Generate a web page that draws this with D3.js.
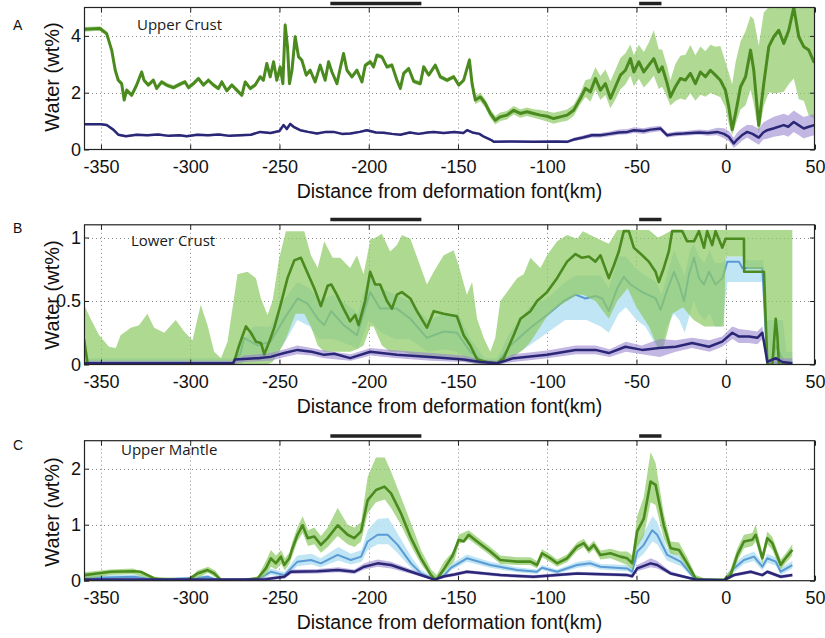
<!DOCTYPE html>
<html><head><meta charset="utf-8">
<script src="https://cdn.jsdelivr.net/npm/d3@7/dist/d3.min.js"></script>
<style>body{margin:0;background:#fff}</style>
</head><body>
<svg id="c" width="825" height="638"></svg>
<script>
// ---------- data ----------
const xTicks = [-350,-300,-250,-200,-150,-100,-50,0,50];
const xDomain = [-359.5, 50];
const barsKm = [[-221.5,-170.5],[-48.5,-36]];
const yTicksA = [0,2,4], yTicksB = [0,0.5,1], yTicksC = [0,1,2];
const yMaxA = 5, yMaxB = 1.1, yMaxC = 2.5;
const titles = ["Upper Crust","Lower Crust","Upper Mantle"];
const letters = ["A","B","C"];
const xLabel = "Distance from deformation font(km)";
const yLabel = "Water (wt%)";

// Panel A: [km, mean, spreadDown, spreadUp]
const greenA = [[-359.5,4.23,.08,.08],[-350.6,4.26,.08,.08],[-346.8,4.08,.08,.08],[-344,3.5,.08,.08],[-342,2.79,.08,.08],[-340.3,2.44,.08,.08],[-338.4,2.32,.08,.08],[-337,1.74,.08,.08],[-335.6,2.09,.08,.08],[-332.8,1.91,.08,.08],[-330,2.27,.08,.08],[-327.2,2.73,.08,.08],[-325.9,2.44,.08,.08],[-323.5,2.27,.08,.08],[-320.6,2.44,.08,.08],[-318.8,2.15,.08,.08],[-316,2.38,.08,.08],[-313.2,2.27,.08,.08],[-309.4,2.18,.08,.08],[-305.7,2.3,.08,.08],[-302.9,2.38,.08,.08],[-301,2.18,.08,.08],[-298.2,2.32,.08,.08],[-295.4,2.5,.08,.08],[-292.6,2.27,.08,.08],[-289.8,2.44,.08,.08],[-287,2.27,.08,.08],[-284.2,2.15,.08,.08],[-282.3,2.38,.08,.08],[-279.5,2.07,.08,.08],[-276.7,2.27,.08,.08],[-273.9,2.09,.08,.08],[-271.1,1.91,.08,.08],[-269.2,2.38,.08,.08],[-266.4,2.15,.08,.08],[-263.6,2.27,.08,.08],[-260.8,2.56,.08,.08],[-259,2.44,.08,.08],[-257.1,3.03,.08,.08],[-255.2,2.56,.08,.08],[-253.3,3.09,.08,.08],[-251.5,2.44,.08,.08],[-249.6,2.91,.08,.08],[-248.1,2.32,.08,.08],[-246.8,4.38,.1,.15],[-245.5,3.62,.1,.1],[-244.4,2.32,.08,.08],[-243,2.79,.08,.08],[-241.2,3.97,.1,.1],[-239.3,3.26,.08,.08],[-237.5,3.15,.08,.08],[-235,2.62,.08,.08],[-232.8,2.79,.08,.08],[-230,2.38,.08,.08],[-227.2,2.97,.08,.08],[-224.4,2.44,.08,.08],[-222.5,3.09,.08,.08],[-220.6,2.73,.08,.08],[-217.8,2.32,.08,.08],[-216,2.85,.08,.08],[-214.1,3.38,.08,.08],[-212.2,2.79,.08,.08],[-209.4,2.56,.08,.08],[-206.6,2.79,.08,.08],[-203.8,2.38,.08,.08],[-201.9,2.97,.08,.08],[-199.1,3.09,.08,.08],[-197.3,2.91,.08,.08],[-195.4,3.32,.08,.08],[-192.6,3.26,.08,.08],[-189.8,2.91,.08,.08],[-187,2.97,.08,.08],[-184.2,2.44,.08,.08],[-182.3,2.15,.08,.08],[-180.4,2.68,.08,.08],[-177.6,2.85,.08,.08],[-174.8,2.4,.08,.08],[-171.1,2.32,.08,.08],[-169.2,2.91,.08,.08],[-166.4,2.62,.08,.08],[-162.7,2.97,.08,.08],[-159.9,2.56,.08,.08],[-156.1,2.44,.08,.08],[-152.4,2.56,.08,.08],[-149.6,2.27,.08,.08],[-146.8,2.44,.08,.08],[-143.6,3.15,.12,.12],[-142.1,2.32,.12,.12],[-140.3,1.74,.15,.15],[-137.5,1.85,.15,.15],[-134.7,1.62,.15,.15],[-131.9,1.27,.15,.15],[-129.1,1.03,.15,.15],[-126.3,1.15,.15,.15],[-122.6,1.21,.15,.15],[-118.8,1.38,.15,.15],[-115.1,1.27,.15,.15],[-111.4,1.33,.15,.15],[-107.6,1.27,.15,.15],[-103.9,1.21,.15,.18],[-100.1,1.17,.18,.18],[-96.4,1.09,.18,.2],[-92.7,1.15,.18,.2],[-88.9,1.21,.2,.2],[-85.2,1.38,.2,.2],[-81.4,1.8,.2,.2],[-78.6,2.15,.3,.3],[-75.8,2.03,.35,.45],[-73,2.5,.4,.4],[-70.2,2.09,.35,.5],[-67.4,2.32,.4,.5],[-64.6,1.8,.35,.6],[-61.8,2.21,.45,.6],[-59,2.62,.5,.6],[-56.2,2.79,.5,.6],[-53.4,3.2,.6,.5],[-51.5,2.73,.5,.6],[-48.7,3.09,.6,.6],[-45.9,2.73,.55,.7],[-43.1,2.97,.6,.8],[-40.3,3.2,.6,1.0],[-37.5,2.73,.6,.8],[-35.6,2.91,.7,.6],[-32.8,2.32,.5,.6],[-31,1.85,.3,.6],[-28.2,2.21,.5,.8],[-25.4,2.5,.7,.8],[-22.6,2.44,.7,.9],[-19.8,2.68,.7,1.0],[-17,2.32,.6,1.0],[-14.2,2.73,.8,.9],[-11.4,2.56,.7,.9],[-8.6,2.79,.8,.9],[-5.8,2.62,.7,1.0],[-3,2.44,.6,1.2],[-0.2,2.09,.6,1.0],[1.7,1.5,.6,1.2],[3.6,0.7,.2,1.6],[5.5,1.27,.4,1.8],[8.3,2.21,.8,1.6],[11.1,2.56,1.0,1.6],[13.9,3.5,1.4,1.2],[15.7,2.79,1.2,1.8],[18.5,0.85,.3,2.8],[21.3,2.32,.8,2.5],[24.1,3.62,1.6,1.4],[26.9,3.97,2.0,1.0],[29.7,4.2,2.2,.8],[32.5,3.73,1.7,1.3],[35.3,4.2,1.9,.8],[38.1,5.0,2.5,0],[40.9,3.97,2.2,1.0],[43.7,3.62,1.9,1.4],[46.5,3.5,2.3,1.5],[49.3,3.09,2.0,1.9],[50,3.2,2.0,1.9]];
const purpleA = [[-359.5,.89,.04,.04],[-350,.89,.04,.04],[-346.8,.86,.04,.04],[-343.1,.7,.04,.04],[-340.3,.52,.04,.04],[-336,.47,.04,.04],[-330,.52,.04,.04],[-324,.5,.04,.04],[-318,.53,.04,.04],[-312,.48,.04,.04],[-306,.5,.04,.04],[-302,.47,.04,.04],[-296,.52,.04,.04],[-290,.5,.04,.04],[-284,.53,.04,.04],[-278,.48,.04,.04],[-272,.5,.04,.04],[-266,.52,.04,.04],[-260.8,.62,.04,.04],[-255,.58,.04,.04],[-250,.65,.04,.04],[-247.7,.86,.05,.05],[-245.9,.72,.05,.05],[-244,.9,.05,.05],[-242.1,.8,.05,.05],[-238.4,.68,.04,.04],[-234,.62,.04,.04],[-229,.56,.04,.04],[-224,.62,.04,.04],[-219.7,.62,.04,.04],[-215,.55,.04,.04],[-210.3,.56,.04,.04],[-205,.62,.04,.04],[-201,.68,.04,.04],[-196,.6,.04,.04],[-191.7,.59,.04,.04],[-187,.55,.04,.04],[-182.3,.52,.04,.04],[-177,.6,.04,.04],[-172,.55,.04,.04],[-167,.6,.04,.04],[-163.6,.62,.04,.04],[-158,.58,.04,.04],[-152,.62,.04,.04],[-147,.58,.04,.04],[-144.9,.68,.04,.04],[-142,.6,.04,.04],[-138,.55,.04,.04],[-135.5,.45,.04,.04],[-131,.32,.04,.04],[-129.9,.27,.04,.04],[-120,.28,.04,.04],[-107.6,.27,.04,.04],[-95,.28,.04,.04],[-88.9,.27,.05,.05],[-85.2,.35,.06,.06],[-80,.42,.07,.07],[-75,.5,.08,.08],[-70.2,.5,.08,.08],[-65,.55,.08,.08],[-60,.6,.08,.1],[-55,.62,.08,.1],[-51.5,.68,.1,.1],[-46,.65,.1,.1],[-42,.7,.1,.1],[-36.6,.74,.1,.1],[-32.8,.5,.08,.08],[-28,.55,.08,.08],[-23.5,.56,.08,.08],[-15,.6,.08,.1],[-10,.58,.1,.1],[-4.8,.62,.12,.15],[-1,.55,.15,.2],[1.7,.45,.15,.2],[4.5,.21,.15,.2],[6.4,.35,.2,.25],[9,.5,.2,.25],[12,.62,.2,.25],[15,.55,.25,.3],[18.5,.42,.25,.3],[21,.6,.25,.35],[23.2,.68,.3,.35],[27,.75,.3,.4],[32.5,.86,.35,.4],[35,.8,.35,.4],[38.1,.97,.35,.4],[41,.85,.35,.4],[43.7,.74,.35,.4],[46.5,.8,.35,.4],[50,.86,.35,.4]];

// Panel B lines [km, value], bands [km, low, high]
const greenB = [[-359.5,0.2],[-357.5,0.01],[-340,0.005],[-300,0.005],[-276,0.01],[-275.4,0.02],[-272.6,0.15],[-268.8,0.3],[-266,0.25],[-263.2,0.18],[-260.4,0.17],[-258.5,0.08],[-255.7,0.18],[-252.9,0.29],[-249.2,0.48],[-245.5,0.68],[-241.7,0.82],[-238,0.84],[-235.2,0.75],[-230.5,0.6],[-226.8,0.46],[-223,0.62],[-221,0.63],[-217.9,0.55],[-214.1,0.44],[-210.4,0.34],[-207.6,0.39],[-205.7,0.31],[-202,0.5],[-199.2,0.73],[-196.4,0.63],[-193.6,0.63],[-189.8,0.5],[-187,0.44],[-184.2,0.55],[-181.4,0.57],[-176.7,0.52],[-173,0.42],[-167.4,0.29],[-163.6,0.42],[-158,0.4],[-150.6,0.38],[-146.8,0.23],[-143.1,0.15],[-139.3,0.04],[-133.7,0.02],[-128.1,0.01],[-124.4,0.05],[-118.8,0.23],[-115,0.36],[-109.4,0.42],[-105.7,0.5],[-100.1,0.57],[-94.5,0.68],[-88.9,0.81],[-84.2,0.87],[-80.5,0.84],[-76.7,0.85],[-73,0.81],[-70.2,0.86],[-65.5,0.68],[-62.7,0.78],[-59.9,0.89],[-57.1,1.05],[-54.3,1.05],[-51.5,0.92],[-46.8,0.86],[-43.1,0.81],[-39.3,0.73],[-37.5,0.65],[-34.7,0.76],[-31.9,0.89],[-30,1.05],[-24.4,1.05],[-21.6,0.97],[-17.8,0.97],[-15,1.05],[-12.2,0.92],[-10.4,1.05],[-7.6,0.94],[-5.7,1.05],[-1.9,0.92],[-0.1,0.99],[10.2,0.99],[10.3,0.73],[21.4,0.73],[23.3,0.0],[26.1,0.0],[28,0.36],[28.9,0.23],[29.8,0.0],[37.3,0.0]];
const blueB = [[-359.5,0.01],[-276,0.01],[-272,0.08],[-269.8,0.21],[-262.3,0.15],[-255,0.18],[-247.3,0.36],[-239.9,0.52],[-234.3,0.48],[-228.6,0.36],[-225,0.31],[-221,0.42],[-214,0.31],[-206.6,0.23],[-199.2,0.57],[-193.6,0.44],[-184.2,0.44],[-176.7,0.36],[-167.4,0.21],[-158,0.26],[-150.6,0.25],[-143.1,0.1],[-135.6,0.02],[-128.1,0.01],[-120.6,0.15],[-109.4,0.29],[-100.1,0.39],[-90.7,0.5],[-84.2,0.55],[-78.6,0.52],[-73,0.54],[-69.2,0.52],[-65.5,0.42],[-60.8,0.6],[-57.1,0.69],[-53.4,0.63],[-46.8,0.57],[-39.3,0.52],[-36.5,0.43],[-33.7,0.55],[-29,0.73],[-26.2,0.63],[-23.4,0.5],[-20.6,0.71],[-17.8,0.84],[-15,0.68],[-12.2,0.63],[-9.4,0.73],[-5.7,0.63],[-1.9,0.68],[0.9,0.81],[7.4,0.81],[9.3,0.76],[20.5,0.76],[23.3,0.0],[26.1,0.02],[28,0.15],[29.8,0.1],[32.6,0.02],[37.3,0.02]];
const purpleB = [[-359.5,0.01],[-276,0.01],[-275,0.04],[-262,0.05],[-255,0.06],[-247.3,0.09],[-239.9,0.115],[-232,0.1],[-225,0.076],[-219.3,0.085],[-210.4,0.05],[-199.2,0.1],[-184.2,0.076],[-165.5,0.06],[-146.8,0.04],[-137.5,0.02],[-128.1,0.01],[-118.8,0.05],[-100.1,0.076],[-84.2,0.115],[-73,0.115],[-65.5,0.09],[-56.2,0.14],[-46.8,0.115],[-37.5,0.13],[-28,0.14],[-18.8,0.17],[-9.4,0.14],[-2,0.18],[3.7,0.25],[7.4,0.22],[13,0.22],[17.7,0.21],[20.5,0.25],[23.3,0.02],[28,0.05],[31.7,0.02],[37.3,0.01]];
const greenBandB = [[-359.5,0,0.47],[-355.8,0,0.36],[-351,0,0.23],[-345.5,0,0.14],[-341.7,0,0.13],[-339,0,0.23],[-333.3,0,0.29],[-328.7,0,0.31],[-324,0,0.4],[-320.2,0,0.29],[-314.6,0,0.25],[-308.1,0,0.35],[-303.4,0,0.26],[-298.7,0,0.19],[-294.1,0,0.47],[-290.3,0,0.31],[-286.6,0,0.1],[-282.8,0,0.05],[-279.1,0,0.18],[-273.5,0,0.71],[-267.9,0,0.73],[-263.2,0,0.68],[-260.4,0,0.52],[-256.7,0,0.39],[-253.9,0.02,0.5],[-250.1,0.1,0.84],[-246.4,0.2,1.05],[-241,0.4,1.05],[-236.1,0.4,1.05],[-232.4,0.3,0.86],[-228.6,0.15,0.76],[-224.9,0.1,0.97],[-220.2,0.1,0.84],[-216,0.1,0.84],[-210.4,0.1,0.76],[-206.6,0.12,0.86],[-202.9,0.15,0.71],[-199,0.3,0.99],[-197.3,0.3,0.99],[-192.6,0.15,1.03],[-188,0.1,0.89],[-184.2,0.1,0.94],[-181.4,0.1,1.02],[-176.7,0.08,0.99],[-172,0.06,0.81],[-167.4,0.05,0.63],[-163.6,0.05,0.73],[-158,0.05,0.86],[-152.4,0.05,0.9],[-149.6,0.04,0.78],[-145,0.02,0.55],[-142.1,0.01,0.65],[-139.3,0,0.36],[-135.6,0,0.21],[-131.9,0,0.1],[-129.1,0,0.21],[-126.3,0,0.5],[-122.5,0.02,0.57],[-116.9,0.08,0.68],[-113.2,0.12,0.71],[-109.4,0.18,0.84],[-103.8,0.3,0.76],[-100.1,0.38,0.86],[-94.5,0.45,0.97],[-88.9,0.5,1.02],[-83.3,0.55,0.99],[-80,0.55,1.05],[-73,0.5,1.0],[-65.5,0.36,0.95],[-60.8,0.5,1.06],[-55,0.6,1.06],[-50,0.45,1.06],[-43,0.3,1.06],[-38,0.13,1.0],[-35,0.13,1.02],[-30,0.4,1.06],[-24,0.45,1.06],[-18,0.35,1.06],[-12,0.3,1.06],[-6,0.3,1.06],[-1,0.3,1.06],[0,0.85,1.06],[10,0.85,1.06],[12,0.75,1.06],[21,0.75,1.06],[23,0,1.06],[37.3,0,1.06]];
const blueBandB = [[-359.5,0,0.05],[-276,0,0.05],[-272,0,0.15],[-265,0.05,0.3],[-255,0.05,0.3],[-248,0.15,0.5],[-240,0.35,0.65],[-233,0.3,0.6],[-228,0.2,0.5],[-220,0.2,0.55],[-210,0.15,0.45],[-206,0.12,0.4],[-200,0.35,0.7],[-193,0.25,0.6],[-185,0.2,0.55],[-177,0.2,0.5],[-167,0.1,0.35],[-158,0.12,0.4],[-150,0.1,0.4],[-143,0.03,0.2],[-135,0,0.05],[-128,0,0.05],[-121,0.05,0.25],[-110,0.15,0.45],[-100,0.25,0.52],[-90,0.35,0.65],[-84,0.35,0.7],[-78,0.35,0.7],[-70,0.3,0.7],[-65.5,0.25,0.6],[-60,0.4,0.85],[-56,0.45,0.85],[-50,0.35,0.75],[-45,0.3,0.7],[-39,0.15,0.65],[-36,0.12,0.55],[-33,0.3,0.7],[-29,0.4,0.9],[-26,0.35,0.8],[-23,0.25,0.7],[-20,0.4,0.9],[-18,0.5,0.95],[-15,0.4,0.85],[-12,0.35,0.8],[-9,0.4,0.9],[-6,0.3,0.8],[-2,0.3,0.8],[1,0.65,0.85],[10,0.65,0.85],[11,0.65,0.82],[21,0.65,0.82],[23,0,0.35],[32,0,0.35],[34,0,0.1],[37.3,0,0.1]];
const purpleBandB = [[-359.5,0,0.03],[-276,0,0.03],[-270,0.02,0.07],[-255,0.03,0.09],[-247,0.06,0.12],[-240,0.08,0.15],[-232,0.07,0.13],[-225,0.05,0.11],[-210,0.03,0.08],[-199,0.07,0.13],[-184,0.05,0.11],[-165,0.03,0.09],[-147,0.02,0.07],[-137,0,0.04],[-128,0,0.03],[-119,0.02,0.08],[-100,0.05,0.11],[-84,0.08,0.15],[-73,0.08,0.15],[-65,0.06,0.12],[-56,0.1,0.18],[-47,0.08,0.15],[-37,0.06,0.2],[-28,0.1,0.19],[-19,0.13,0.21],[-9,0.1,0.19],[-2,0.14,0.22],[3.7,0.2,0.3],[7.4,0.17,0.28],[13,0.17,0.27],[17.7,0.16,0.26],[20.5,0.2,0.3],[23.3,0,0.05],[37.3,0,0.05]];

// Panel C
const greenC = [[-359.5,0.1],[-352,0.13],[-344.5,0.16],[-331.5,0.17],[-327.7,0.16],[-320.2,0.04],[-314.6,0.01],[-301.5,0.01],[-295.9,0.13],[-290.3,0.19],[-286.6,0.13],[-282.8,0.01],[-269.8,0.01],[-262.3,0.04],[-257.6,0.22],[-254.8,0.4],[-252,0.31],[-249.2,0.43],[-247.3,0.28],[-244.5,0.4],[-242.7,0.58],[-239.9,0.82],[-237.1,0.99],[-234.2,0.76],[-230.5,0.79],[-226.8,0.64],[-223,0.76],[-217.4,0.99],[-211.8,0.82],[-208.1,0.76],[-204.3,0.88],[-200.6,1.44],[-195.9,1.62],[-191.2,1.68],[-187.5,1.56],[-181.9,1.2],[-176.3,0.76],[-170.7,0.4],[-165.1,0.1],[-162.3,0.01],[-157.6,0.22],[-153,0.45],[-149.6,0.73],[-146.8,0.7],[-144,0.82],[-139.3,0.7],[-131.9,0.52],[-126.3,0.37],[-116.9,0.34],[-109.4,0.34],[-105.7,0.28],[-102.9,0.49],[-98.2,0.4],[-94.5,0.31],[-88.9,0.4],[-83.3,0.61],[-79.5,0.67],[-76.7,0.55],[-73.9,0.64],[-70.2,0.46],[-64.6,0.49],[-59,0.43],[-55.2,0.4],[-52.4,0.31],[-49.6,0.88],[-45.9,1.11],[-42.1,1.77],[-39.3,1.71],[-34.7,0.99],[-30.9,0.58],[-26.2,0.55],[-21.6,0.31],[-16.9,0.04],[-12.2,0.01],[-1,0.01],[2.7,0.1],[6.5,0.46],[10.2,0.7],[14.9,0.73],[16.8,0.82],[20.5,0.4],[23.3,0.76],[26.1,0.67],[30.8,0.28],[32.7,0.37],[37.3,0.55]];
const blueC = [[-359.5,0.05],[-331.5,0.07],[-320.2,0.02],[-295.9,0.05],[-290.3,0.07],[-284.7,0.01],[-262.3,0.02],[-254.8,0.16],[-247.3,0.1],[-243.6,0.22],[-239.9,0.34],[-232.4,0.37],[-226.8,0.31],[-217.4,0.46],[-210,0.37],[-204.3,0.43],[-200.6,0.7],[-195,0.82],[-189.4,0.82],[-183.8,0.64],[-176.3,0.31],[-170.7,0.13],[-163.2,0.02],[-157.6,0.1],[-154,0.23],[-145,0.4],[-131.9,0.28],[-116.9,0.19],[-105.7,0.16],[-102.9,0.23],[-94.5,0.16],[-83.3,0.28],[-75.8,0.31],[-70.2,0.25],[-55.2,0.22],[-52.4,0.16],[-49.6,0.52],[-45.9,0.64],[-41.2,0.9],[-38.4,0.82],[-32.8,0.46],[-25.3,0.34],[-16.9,0.02],[-1,0.01],[4.6,0.22],[10.2,0.37],[15.8,0.43],[20.5,0.25],[23.3,0.4],[28,0.34],[30.8,0.16],[37.3,0.28]];
const purpleC = [[-359.5,0.02],[-275,0.02],[-258,0.02],[-254.8,0.04],[-247.3,0.07],[-243.6,0.16],[-228.6,0.17],[-217.4,0.19],[-208,0.16],[-202.5,0.25],[-195,0.31],[-187.5,0.28],[-176.3,0.16],[-163.2,0.02],[-157.6,0.08],[-152,0.11],[-145,0.16],[-126.3,0.1],[-107.6,0.07],[-83.3,0.13],[-55.2,0.1],[-52.4,0.08],[-49.6,0.22],[-42.1,0.31],[-38.4,0.28],[-30.9,0.13],[-16.9,0.02],[-1,0.01],[4.6,0.1],[14,0.16],[20.5,0.1],[23.3,0.16],[30.8,0.07],[37.3,0.1]];
const greenBandC = [[-359.5,0.02,0.15],[-345,0.1,0.2],[-332,0.12,0.22],[-320,0.01,0.07],[-300,0,0.03],[-296,0.05,0.18],[-290,0.14,0.25],[-286,0.06,0.18],[-282,0,0.02],[-270,0,0.02],[-262,0,0.08],[-257.6,0.1,0.35],[-254.8,0.25,0.55],[-252,0.2,0.45],[-249,0.3,0.55],[-247,0.18,0.4],[-244.5,0.3,0.5],[-242.7,0.45,0.7],[-240,0.7,0.95],[-237,0.85,1.15],[-234,0.62,0.9],[-230.5,0.65,0.95],[-226.8,0.5,0.8],[-223,0.6,0.95],[-217.4,0.8,1.3],[-211.8,0.65,1.0],[-208,0.6,0.95],[-204.3,0.7,1.05],[-200.6,1.2,1.85],[-196,1.4,2.2],[-191,1.45,2.2],[-187.5,1.3,1.95],[-182,1.0,1.5],[-176,0.6,1.0],[-170.7,0.3,0.55],[-165,0.05,0.2],[-162,0,0.1],[-157.6,0.15,0.35],[-152,0.35,0.55],[-149.6,0.65,0.82],[-144,0.74,0.9],[-139.3,0.63,0.78],[-131.9,0.45,0.6],[-126.3,0.3,0.45],[-116.9,0.28,0.42],[-109.4,0.28,0.42],[-105.7,0.22,0.35],[-102.9,0.42,0.56],[-98.2,0.33,0.47],[-94.5,0.25,0.38],[-88.9,0.33,0.47],[-83.3,0.53,0.68],[-79.5,0.6,0.75],[-76.7,0.48,0.62],[-73.9,0.56,0.72],[-70.2,0.38,0.54],[-64.6,0.4,0.57],[-59,0.33,0.52],[-55.2,0.28,0.52],[-52.4,0.2,0.45],[-49.6,0.6,1.15],[-45.9,0.8,1.5],[-42.1,1.4,2.3],[-39.3,1.35,2.1],[-34.7,0.75,1.2],[-30.9,0.48,0.7],[-26.2,0.45,0.68],[-21.6,0.22,0.42],[-16.9,0,0.1],[-12.2,0,0.05],[-1,0,0.05],[2.7,0.03,0.2],[6.5,0.35,0.58],[10.2,0.58,0.82],[14.9,0.62,0.85],[16.8,0.7,1.0],[20.5,0.3,0.5],[23.3,0.65,0.88],[26.1,0.55,0.78],[30.8,0.2,0.38],[32.7,0.28,0.45],[37.3,0.45,0.65]];
const blueBandC = [[-359.5,0.02,0.09],[-331.5,0.04,0.11],[-320,0,0.04],[-296,0.02,0.08],[-290,0.04,0.1],[-284,0,0.03],[-262,0,0.04],[-255,0.1,0.22],[-247,0.06,0.15],[-243.6,0.15,0.3],[-240,0.26,0.45],[-232,0.29,0.48],[-227,0.24,0.4],[-217,0.36,0.6],[-210,0.29,0.48],[-204,0.34,0.55],[-200.6,0.55,0.9],[-195,0.65,1.1],[-189,0.65,1.12],[-184,0.5,0.85],[-176,0.22,0.42],[-171,0.08,0.2],[-163,0,0.05],[-157.6,0.06,0.15],[-154,0.18,0.3],[-145,0.34,0.47],[-132,0.23,0.34],[-117,0.15,0.24],[-105.7,0.12,0.2],[-103,0.19,0.28],[-94.5,0.12,0.2],[-83,0.23,0.34],[-76,0.26,0.37],[-70,0.2,0.3],[-55,0.17,0.28],[-52.4,0.1,0.24],[-49.6,0.38,0.68],[-46,0.48,0.85],[-41,0.7,1.15],[-38.4,0.65,1.05],[-33,0.36,0.58],[-25,0.26,0.42],[-17,0,0.05],[-1,0,0.04],[4.6,0.15,0.3],[10.2,0.3,0.45],[15.8,0.35,0.52],[20.5,0.18,0.32],[23.3,0.32,0.48],[28,0.27,0.42],[30.8,0.1,0.23],[37.3,0.22,0.35]];
const purpleBandC = [[-359.5,0,0.05],[-275,0,0.04],[-255,0.01,0.07],[-247,0.04,0.1],[-243.6,0.12,0.2],[-228.6,0.13,0.21],[-217,0.15,0.24],[-208,0.12,0.2],[-202.5,0.2,0.31],[-195,0.25,0.38],[-187.5,0.22,0.34],[-176,0.12,0.2],[-163,0,0.05],[-157.6,0.05,0.11],[-152,0.08,0.14],[-145,0.13,0.19],[-126,0.07,0.13],[-107.6,0.04,0.1],[-83,0.1,0.16],[-55,0.07,0.13],[-52.4,0.05,0.11],[-49.6,0.17,0.28],[-42,0.24,0.4],[-38.4,0.22,0.35],[-31,0.1,0.17],[-17,0,0.04],[-1,0,0.03],[4.6,0.07,0.13],[14,0.13,0.19],[20.5,0.07,0.13],[23.3,0.13,0.19],[30.8,0.04,0.1],[37.3,0.07,0.13]];

// ---------- styles ----------
const C = {
  greenLine:"#4a8a1e", greenBand:"#8fcb66", blueLine:"#5b9bd5", blueBand:"#b9e2f3",
  purpleLine:"#2b2777", purpleBand:"#9a86cf"
};
const FONT = "'Liberation Sans', Arial, Helvetica, sans-serif";
const L = 84, R = 815;

const svg = d3.select("#c");
const x = d3.scaleLinear().domain(xDomain).range([L, R]);

const bandFromTriples = d => ({k:d[0], lo:d[1], hi:d[2]});
const panels = [
  {letter:letters[0], title:titles[0], yMax:yMaxA, ticks:yTicksA, y0:149.5, y1:7.5, letterY:30, titleX:137, titleY:29.5, barY:3.5, ylabY:77,
   layers:[
     {type:"band", data:greenA.map(d=>[d[0],d[1]-d[2],d[1]+d[3]]), color:C.greenBand, op:0.7},
     {type:"band", data:purpleA.map(d=>[d[0],d[1]-d[2],d[1]+d[3]]), color:C.purpleBand, op:0.6},
     {type:"line", data:greenA, color:C.greenLine, w:3},
     {type:"line", data:purpleA, color:C.purpleLine, w:2.5}
   ]},
  {letter:letters[1], title:titles[1], yMax:yMaxB, ticks:yTicksB, y0:364.5, y1:224.8, letterY:233, titleX:131, titleY:245.5, barY:219.5, ylabY:295,
   layers:[
     {type:"band", data:blueBandB, color:C.blueBand, op:0.9},
     {type:"line", data:blueB, color:C.blueLine, w:2},
     {type:"band", data:greenBandB, color:C.greenBand, op:0.72},
     {type:"band", data:purpleBandB, color:C.purpleBand, op:0.6},
     {type:"line", data:greenB, color:C.greenLine, w:2.6},
     {type:"line", data:purpleB, color:C.purpleLine, w:2.5}
   ]},
  {letter:letters[2], title:titles[2], yMax:yMaxC, ticks:yTicksC, y0:580.7, y1:440.7, letterY:449.5, titleX:121, titleY:454.5, barY:436, ylabY:512,
   layers:[
     {type:"band", data:blueBandC, color:C.blueBand, op:0.9},
     {type:"line", data:blueC, color:C.blueLine, w:2},
     {type:"band", data:greenBandC, color:C.greenBand, op:0.72},
     {type:"band", data:purpleBandC, color:C.purpleBand, op:0.6},
     {type:"line", data:greenC, color:C.greenLine, w:2.6},
     {type:"line", data:purpleC, color:C.purpleLine, w:2.5}
   ]}
];

panels.forEach((p,i)=>{
  const y = d3.scaleLinear().domain([0,p.yMax]).range([p.y0,p.y1]);
  const g = svg.append("g");
  const cid = "clip"+i;
  svg.append("defs").append("clipPath").attr("id",cid).append("rect")
    .attr("x",L).attr("y",p.y1).attr("width",R-L).attr("height",p.y0-p.y1);

  // grid
  const grid = g.append("g").attr("stroke","#8a8a8a").attr("stroke-width",1).attr("stroke-dasharray","1,3");
  xTicks.filter(t=>t<xDomain[1]).forEach(t=>grid.append("line")
    .attr("x1",Math.round(x(t))+0.5).attr("x2",Math.round(x(t))+0.5).attr("y1",p.y1).attr("y2",p.y0));
  p.ticks.filter(t=>t>0).forEach(t=>grid.append("line")
    .attr("x1",L).attr("x2",R).attr("y1",Math.round(y(t))+0.5).attr("y2",Math.round(y(t))+0.5));

  // data
  const plot = g.append("g").attr("clip-path",`url(#${cid})`);
  p.layers.forEach(l=>{
    if(l.type==="band"){
      plot.append("path").datum(l.data)
        .attr("d", d3.area().x(d=>x(d[0])).y0(d=>y(d[1])).y1(d=>y(d[2])))
        .attr("fill",l.color).attr("fill-opacity",l.op);
    } else {
      plot.append("path").datum(l.data)
        .attr("d", d3.line().x(d=>x(d[0])).y(d=>y(d[1])))
        .attr("fill","none").attr("stroke",l.color).attr("stroke-width",l.w)
        .attr("stroke-linejoin","round");
    }
  });

  // axes (inward ticks on all sides)
  const fmt = d => String(d);
  const ax = g.append("g").attr("transform",`translate(0,${p.y0})`)
    .call(d3.axisBottom(x).tickValues(xTicks).tickSize(-5).tickPadding(11).tickFormat(fmt));
  g.append("g").attr("transform",`translate(0,${p.y1})`)
    .call(d3.axisTop(x).tickValues(xTicks).tickSize(-5).tickFormat(""));
  const ay = g.append("g").attr("transform",`translate(${L},0)`)
    .call(d3.axisLeft(y).tickValues(p.ticks).tickSize(-5).tickPadding(3).tickFormat(fmt));
  g.append("g").attr("transform",`translate(${R},0)`)
    .call(d3.axisRight(y).tickValues(p.ticks).tickSize(-5).tickFormat(""));
  g.selectAll(".domain").remove();
  g.selectAll(".tick line").attr("stroke","#222");
  g.selectAll(".tick text").attr("font-family",FONT).attr("font-size",18).attr("fill","#111");

  // frame
  g.append("rect").attr("x",L+0.5).attr("y",p.y1).attr("width",R-L-1).attr("height",p.y0-p.y1)
    .attr("fill","none").attr("stroke","#222").attr("stroke-width",1.2);

  // top bars
  barsKm.forEach(b=>g.append("line").attr("x1",x(b[0])).attr("x2",x(b[1]))
    .attr("y1",p.barY).attr("y2",p.barY).attr("stroke","#222").attr("stroke-width",3.5));

  // texts
  g.append("text").attr("x",13).attr("y",p.letterY).text(p.letter)
    .attr("font-family",FONT).attr("font-size",14).attr("fill","#111");
  g.append("text").attr("x",p.titleX).attr("y",p.titleY).text(p.title)
    .attr("font-family","'Open Sans', 'Noto Sans', sans-serif").attr("font-size",15).attr("fill","#1a1a1a");
  g.append("text").attr("x",(L+R)/2).attr("y",p.y0+48.5).attr("text-anchor","middle").text(xLabel)
    .attr("font-family",FONT).attr("font-size",19.5).attr("fill","#111");
  g.append("text").attr("transform",`translate(59,${p.ylabY}) rotate(-90)`).attr("text-anchor","middle").text(yLabel)
    .attr("font-family",FONT).attr("font-size",20).attr("fill","#111");
});
</script>
</body></html>
